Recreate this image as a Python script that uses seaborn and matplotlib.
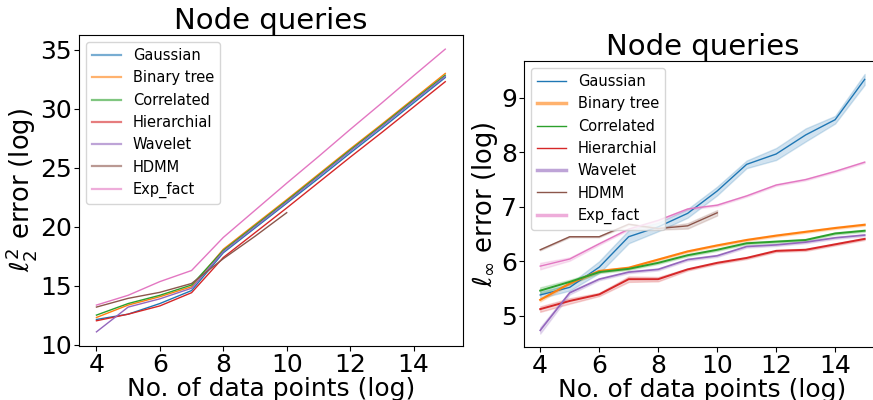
import numpy as np
import pandas as pd
import matplotlib
matplotlib.use("Agg")
import matplotlib.pyplot as plt
import seaborn as sns

methods = ["Gaussian", "Binary tree", "Correlated", "Hierarchial", "Wavelet", "HDMM", "Exp_fact"]
x_full = [4, 5, 6, 7, 8, 9, 10, 11, 12, 13, 14, 15]
x_hdmm = [4, 5, 6, 7, 8, 9, 10]

# ---- left panel: l2^2 error (log)
l2_gaussian = [12.15, 12.6, 13.5, 14.6, 17.8, 19.9, 22.0, 24.1, 26.25, 28.35, 30.5, 32.65]
l2_binary = [12.32, 13.37, 14.08, 14.93, 18.1, 20.2, 22.3, 24.45, 26.6, 28.7, 30.85, 33.0]
l2_correlated = [12.52, 13.5, 14.2, 15.07, 18.0, 20.1, 22.2, 24.35, 26.5, 28.6, 30.75, 32.85]
l2_hierarchial = [12.04, 12.6, 13.3, 14.42, 17.4, 19.5, 21.6, 23.75, 25.9, 28.0, 30.15, 32.3]
l2_wavelet = [11.1, 13.2, 13.9, 14.8, 17.9, 20.0, 22.1, 24.25, 26.4, 28.5, 30.65, 32.75]
l2_hdmm = [13.2, 13.94, 14.45, 15.2, 17.3, 19.2, 21.2]
l2_expfact = [13.37, 14.2, 15.36, 16.3, 19.1, 21.4, 23.7, 25.95, 28.25, 30.5, 32.8, 35.06]

# ---- right panel: l_inf error (log), with band half-widths
li_gaussian = [5.38, 5.52, 5.89, 6.45, 6.63, 6.88, 7.29, 7.78, 7.97, 8.32, 8.60, 9.34]
li_gaussian_err = [0.06, 0.06, 0.11, 0.12, 0.08, 0.08, 0.08, 0.07, 0.11, 0.12, 0.07, 0.1]
li_binary = [5.29, 5.59, 5.82, 5.88, 6.03, 6.18, 6.29, 6.39, 6.47, 6.54, 6.61, 6.67]
li_binary_err = [0.03, 0.02, 0.02, 0.02, 0.02, 0.02, 0.02, 0.02, 0.02, 0.02, 0.02, 0.02]
li_correlated = [5.46, 5.62, 5.80, 5.86, 5.97, 6.11, 6.21, 6.33, 6.36, 6.39, 6.51, 6.56]
li_correlated_err = [0.06, 0.04, 0.02, 0.02, 0.02, 0.02, 0.02, 0.02, 0.02, 0.02, 0.02, 0.02]
li_hierarchial = [5.12, 5.27, 5.39, 5.67, 5.67, 5.85, 5.97, 6.06, 6.19, 6.21, 6.31, 6.41]
li_hierarchial_err = [0.05, 0.05, 0.03, 0.05, 0.04, 0.02, 0.02, 0.02, 0.02, 0.02, 0.02, 0.02]
li_wavelet = [4.73, 5.42, 5.67, 5.80, 5.85, 6.03, 6.10, 6.27, 6.30, 6.35, 6.43, 6.48]
li_wavelet_err = [0.06, 0.03, 0.02, 0.02, 0.02, 0.02, 0.02, 0.02, 0.02, 0.02, 0.02, 0.02]
li_hdmm = [6.21, 6.45, 6.45, 6.68, 6.60, 6.65, 6.89]
li_hdmm_err = [0.01, 0.01, 0.01, 0.01, 0.02, 0.05, 0.05]
li_expfact = [5.91, 6.04, 6.32, 6.59, 6.75, 6.96, 7.03, 7.20, 7.40, 7.50, 7.65, 7.82]
li_expfact_err = [0.06, 0.03, 0.02, 0.015, 0.015, 0.015, 0.015, 0.015, 0.015, 0.015, 0.015, 0.015]

colors = sns.color_palette("tab10", 7)

fig = plt.figure(figsize=(8.73, 4.0), dpi=100)
ax1 = fig.add_axes([0.0905, 0.135, 0.4395, 0.7775])
ax2 = fig.add_axes([0.6002, 0.1335, 0.4088, 0.714])

# left
left_series = [
    (x_full, l2_gaussian), (x_full, l2_binary), (x_full, l2_correlated),
    (x_full, l2_hierarchial), (x_full, l2_wavelet), (x_hdmm, l2_hdmm), (x_full, l2_expfact),
]
for name, col, (xs, ys) in zip(methods, colors, left_series):
    sns.lineplot(x=xs, y=ys, ax=ax1, color=col, linewidth=1.0, label=name, errorbar=None)

# right (bands from replicate rows, percentile interval = min..max)
right_series = [
    (x_full, li_gaussian, li_gaussian_err, 1.0),
    (x_full, li_binary, li_binary_err, 1.5),
    (x_full, li_correlated, li_correlated_err, 1.4),
    (x_full, li_hierarchial, li_hierarchial_err, 1.4),
    (x_full, li_wavelet, li_wavelet_err, 1.2),
    (x_hdmm, li_hdmm, li_hdmm_err, 1.0),
    (x_full, li_expfact, li_expfact_err, 1.0),
]
for name, col, (xs, ys, es, lw) in zip(methods, colors, right_series):
    xs = np.asarray(xs, float); ys = np.asarray(ys); es = np.asarray(es)
    df = pd.DataFrame({
        "x": np.concatenate([xs, xs, xs]),
        "y": np.concatenate([ys - es, ys, ys + es]),
    })
    sns.lineplot(data=df, x="x", y="y", ax=ax2, color=col, linewidth=lw,
                 label=name, errorbar=("pi", 100))

for ax in (ax1, ax2):
    ax.set_title("Node queries", fontsize=21, pad=4)
    ax.set_xticks([4, 6, 8, 10, 12, 14])
    ax.tick_params(axis="both", labelsize=18, pad=1.5)
    ax.set_xlabel("No. of data points (log)", fontsize=18, labelpad=0)

ax1.set_ylabel(r"$\ell_2^2$ error (log)", fontsize=18.5, labelpad=1)
ax2.set_ylabel(r"$\ell_\infty$ error (log)", fontsize=18.5, labelpad=1)
ax1.set_yticks([10, 15, 20, 25, 30, 35])
ax2.set_yticks([5, 6, 7, 8, 9])

leg1 = ax1.legend(loc="upper left", fontsize=10.5)
for ln in leg1.get_lines():
    ln.set_linewidth(1.6)
    ln.set_alpha(0.6)
leg2 = ax2.legend(loc="upper left", fontsize=10.5)
for ln, lw, a in zip(leg2.get_lines(), [1.0, 2.5, 1.0, 1.0, 2.5, 1.0, 2.5],
                     [1, 0.6, 1, 1, 0.6, 1, 0.6]):
    ln.set_linewidth(lw)
    ln.set_alpha(a)

fig.savefig("out.png", dpi=100)
